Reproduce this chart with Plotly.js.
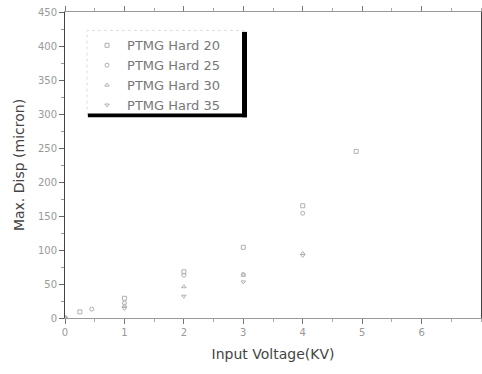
<!DOCTYPE html>
<html><head><meta charset="utf-8">
<script src="https://cdn.plot.ly/plotly-3.0.1.min.js"></script>
<style>html,body{margin:0;padding:0;background:#fff;}#chart{width:482px;height:374px;}</style>
</head><body><div id="chart"></div>
<script>
const seriesNames = ['PTMG Hard 20', 'PTMG Hard 25', 'PTMG Hard 30', 'PTMG Hard 35'];
const voltage20 = [0, 0.25, 1, 2, 3, 4, 4.9];
const disp20 = [0, 9, 29, 68, 104, 165, 245];
const voltage25 = [0, 0.45, 1, 2, 3, 4];
const disp25 = [0, 13, 22, 63, 64, 154];
const voltage30 = [0, 1, 2, 3, 4];
const disp30 = [0, 18, 46, 63, 95];
const voltage35 = [0, 1, 2, 3, 4];
const disp35 = [0, 14, 32, 53, 92];
const xTicks = [0, 1, 2, 3, 4, 5, 6];
const yTicks = [0, 50, 100, 150, 200, 250, 300, 350, 400, 450];

const xs = [voltage20, voltage25, voltage30, voltage35];
const ys = [disp20, disp25, disp30, disp35];
const symbols = ['square-open', 'circle-open', 'triangle-up-open', 'triangle-down-open'];
const traces = seriesNames.map((n, i) => ({
  type: 'scatter', mode: 'markers', name: n, x: xs[i], y: ys[i],
  marker: {symbol: symbols[i], size: 4, color: '#b0b0b0', line: {width: 1, color: '#b0b0b0'}}
}));

const layout = {
  width: 482, height: 374,
  margin: {l: 65, r: 1, t: 12, b: 56},
  paper_bgcolor: '#fff', plot_bgcolor: '#fff',
  font: {family: 'DejaVu Sans, sans-serif', color: '#888'},
  showlegend: true,
  legend: {x: 0.053, y: 0.94, xanchor: 'left', yanchor: 'top', bgcolor: 'rgba(0,0,0,0)',
    borderwidth: 0, font: {size: 13, color: '#777', family: 'DejaVu Sans, sans-serif'},
    tracegroupgap: 0, itemwidth: 30},
  xaxis: {range: [0, 7], tickvals: xTicks, ticktext: xTicks.map(String),
    showgrid: false, zeroline: false, showline: true, linecolor: '#999', linewidth: 1,
    mirror: 'ticks', ticks: 'outside', ticklen: 5, tickcolor: '#777',
    minor: {dtick: 0.5, ticks: 'outside', ticklen: 3, tickcolor: '#aaa'},
    tickfont: {size: 10, color: '#999'},
    title: {text: 'Input Voltage(KV)', font: {size: 14, color: '#444'}, standoff: 12}},
  yaxis: {range: [0, 450], tickvals: yTicks, ticktext: yTicks.map(String),
    showgrid: false, zeroline: false, showline: true, linecolor: '#444', linewidth: 1,
    mirror: 'ticks', ticks: 'outside', ticklen: 5, tickcolor: '#666',
    minor: {dtick: 25, ticks: 'outside', ticklen: 3, tickcolor: '#999'},
    tickfont: {size: 10, color: '#999'},
    title: {text: 'Max. Disp (micron)', font: {size: 14, color: '#444'}, standoff: 10}},
  shapes: [
    {type: 'rect', xref: 'paper', yref: 'paper', x0: 0.053, x1: 0.43, y0: 0.665, y1: 0.94,
      line: {color: '#ddd', width: 1, dash: 'dot'}, fillcolor: 'rgba(0,0,0,0)'},
    {type: 'rect', xref: 'paper', yref: 'paper', x0: 0.4255, x1: 0.4375, y0: 0.656, y1: 0.935,
      line: {width: 0}, fillcolor: '#000'},
    {type: 'rect', xref: 'paper', yref: 'paper', x0: 0.055, x1: 0.4375, y0: 0.656, y1: 0.668,
      line: {width: 0}, fillcolor: '#000'}
  ]
};
Plotly.newPlot('chart', traces, layout, {displayModeBar: false, staticPlot: true});
</script></body></html>
